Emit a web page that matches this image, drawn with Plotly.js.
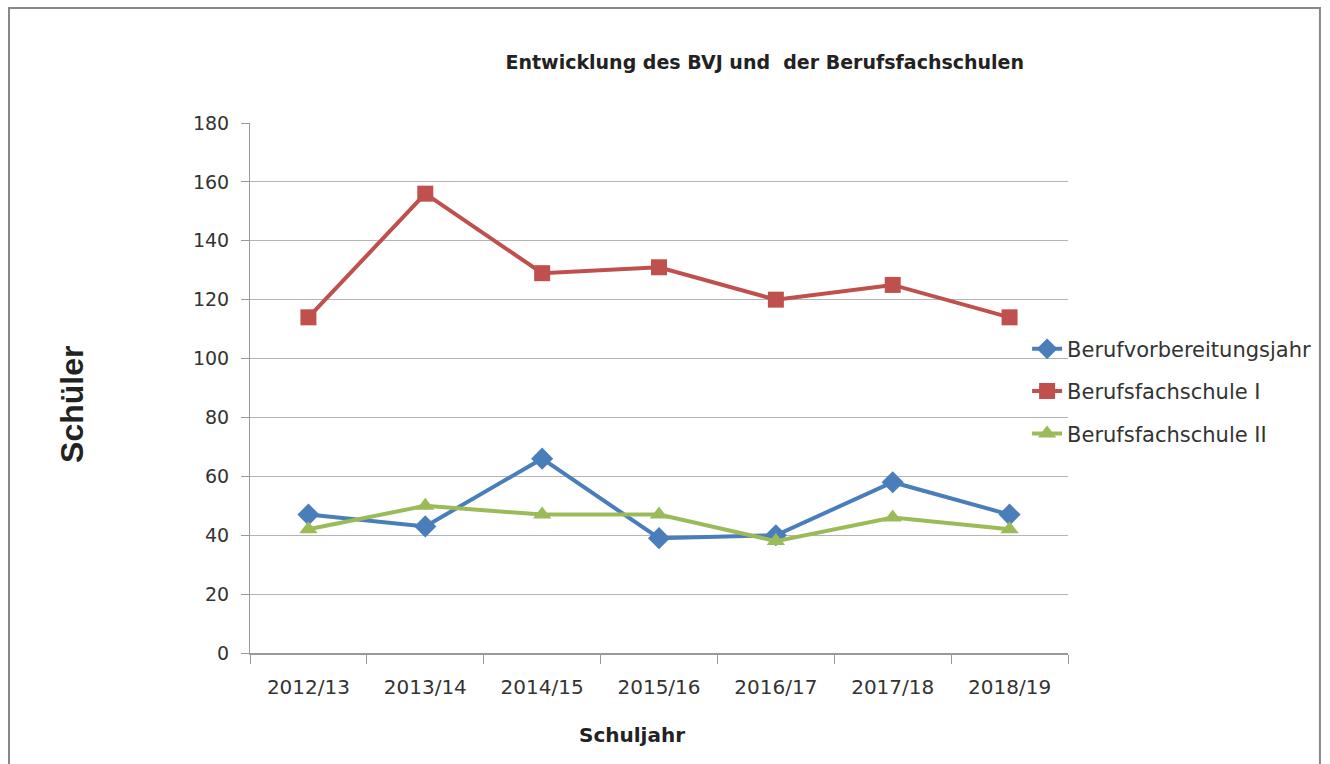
<!DOCTYPE html>
<html>
<head>
<meta charset="utf-8">
<script src="https://cdn.plot.ly/plotly-3.0.1.min.js"></script>
<style>
  body { margin: 0; background: #fff; }
  #graph { width: 1330px; height: 764px; }
</style>
</head>
<body>
<div id="graph"></div>
<script>
const years = ["2012/13", "2013/14", "2014/15", "2015/16", "2016/17", "2017/18", "2018/19"];
const bvj = [47, 43, 66, 39, 40, 58, 47];
const bfs1 = [114, 156, 129, 131, 120, 125, 114];
const bfs2 = [42, 50, 47, 47, 38, 46, 42];

function series(name, values, color, symbol, size) {
    return {
        x: years,
        y: values,
        name: name,
        legendgroup: name,
        mode: "lines+markers",
        type: "scatter",
        line: { color: color, width: 4 },
        marker: { color: color, symbol: symbol, size: size }
    };
}

const traces = [
    series("Berufvorbereitungsjahr", bvj, "#4a7ebb", "diamond", 17),
    series("Berufsfachschule I", bfs1, "#c0504d", "square", 16),
    series("Berufsfachschule II", bfs2, "#9bbb59", "triangle-up", 16)
];

const layout = {
    width: 1330,
    height: 764,
    margin: { l: 250, r: 262, t: 123, b: 111 },
    paper_bgcolor: "#fff",
    plot_bgcolor: "#fff",
    font: { family: "'DejaVu Sans', sans-serif", size: 18, color: "#333" },
    title: {
        text: "<b>Entwicklung des BVJ und  der Berufsfachschulen</b>",
        font: { size: 19, color: "#222" },
        x: 0.575, xanchor: "center",
        y: 0.918, yanchor: "middle"
    },
    xaxis: {
        type: "category",
        range: [-0.5, 6.5],
        tickson: "boundaries",
        ticks: "outside",
        ticklen: 9,
        tickcolor: "#999",
        showline: true,
        linecolor: "#999",
        linewidth: 1.5,
        showgrid: false,
        tickfont: { size: 20, color: "#333" },
        ticklabelstandoff: 15
    },
    yaxis: {
        range: [0, 180],
        dtick: 20,
        ticks: "outside",
        ticklen: 8,
        tickcolor: "#999",
        showline: true,
        linecolor: "#999",
        gridcolor: "#b4b4b4",
        gridwidth: 1,
        zeroline: false,
        tickfont: { size: 19, color: "#333" },
        ticklabelstandoff: 8
    },
    annotations: [{
        text: "<b>Schüler</b>",
        xref: "paper", yref: "paper",
        x: -0.2176, y: 0.468,
        xanchor: "center", yanchor: "middle",
        textangle: -90,
        showarrow: false,
        font: { family: "'Liberation Sans', Arial, sans-serif", size: 32, color: "#222" }
    }, {
        text: "<b>Schuljahr</b>",
        xref: "paper", yref: "paper",
        x: 0.467, y: -0.155,
        xanchor: "center", yanchor: "middle",
        showarrow: false,
        font: { size: 20, color: "#222" }
    }],
    legend: {
        x: 0.95, xanchor: "left",
        y: 0.612, yanchor: "top",
        traceorder: "grouped",
        tracegroupgap: 12,
        font: { size: 21, color: "#333" },
        bgcolor: "rgba(0,0,0,0)"
    },
    shapes: [{
        type: "rect", xref: "paper", yref: "paper",
        x0: -0.2946, x1: 1.308, y0: -0.23, y1: 1.217,
        line: { color: "#888", width: 2 }
    }],
    showlegend: true
};

Plotly.newPlot("graph", traces, layout, { displayModeBar: false });
</script>
</body>
</html>
